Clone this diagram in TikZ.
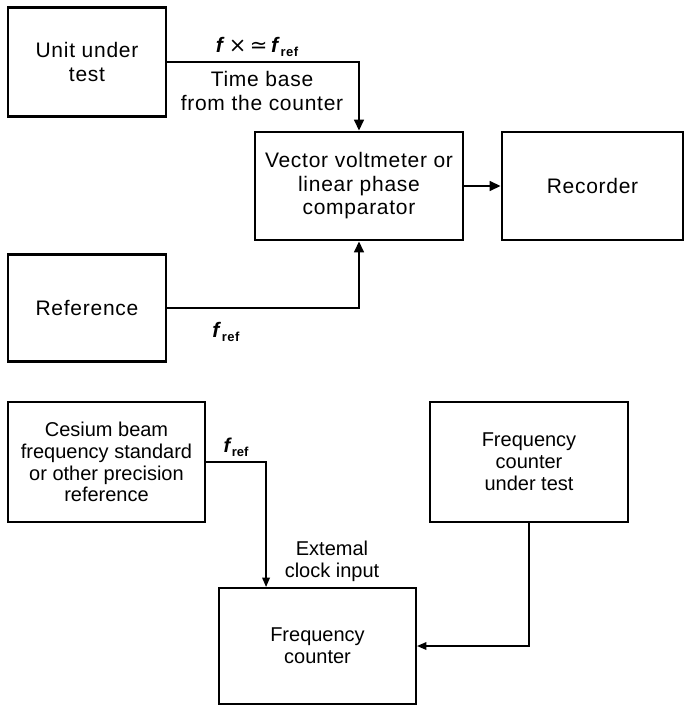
\documentclass[tikz,border=0pt]{standalone}
\usepackage{fontspec}
\setmainfont{Liberation Sans}
\newfontfamily\widefont{Liberation Sans}[LetterSpace=3.5]
\newfontfamily\symfont{DejaVu Sans}
\usetikzlibrary{arrows.meta,calc}

% frequency symbol with "ref" subscript
\newcommand\fref{\textbf{\textit{f}}\raisebox{-0.35ex}{\fontsize{13}{13}\selectfont\bfseries ref}}

\tikzset{
  blk/.style={draw, line width=2.6pt, inner sep=0pt, align=center,
    font=\widefont\fontsize{21}{23.5}\selectfont},
  blkthin/.style={draw, line width=1.9pt, inner sep=0pt, align=center,
    font=\fontsize{20}{21.8}\selectfont},
  link/.style={line width=2.6pt, -{Triangle[length=11pt,width=9.5pt]}},
  linkthin/.style={line width=1.9pt, -{Triangle[length=9.5pt,width=7.5pt]}},
  lbl/.style={inner sep=0pt, align=center, font=\widefont\fontsize{21}{23.5}\selectfont},
  lblthin/.style={inner sep=0pt, align=center, font=\fontsize{20}{21.8}\selectfont},
}

\begin{document}
\begin{tikzpicture}[x=1pt,y=-1pt]
\useasboundingbox (0,0) rectangle (684,706);

% upper arrangement: phase comparison
\node[blk, minimum width=158pt, minimum height=109pt] (uut) at (87,62) {Unit under\\test};
\node[blk, minimum width=208pt, minimum height=108pt] (vec) at (359,186) {Vector voltmeter or\\linear phase\\comparator};
\node[blk, minimum width=181pt, minimum height=108pt] (rec) at (592.5,186) {Recorder};
\node[blk, minimum width=158pt, minimum height=107pt] (ref) at (87,308) {Reference};

\draw[link] (uut.east) -| (vec.north);
\draw[link] (ref.east) -| (vec.south);
\draw[link] (vec) -- (rec);

\node[lbl] (lf) at (257,47) {\textbf{\textit{f}}\,{\symfont ×}\,{\symfont ≃}\,\fref};
\node[lbl] (ltb) at (262,91) {Time base\\from the counter};
\node[lbl] (lr) at (226,332) {\fref};

% lower arrangement: counter check against a standard
\node[blkthin, minimum width=197pt, minimum height=120pt] (ces) at (106.5,462) {Cesium beam\\frequency standard\\or other precision\\reference};
\node[blkthin, minimum width=198pt, minimum height=120pt] (fcut) at (529,462) {Frequency\\counter\\under test};
\node[blkthin, minimum width=197pt, minimum height=116pt] (fc) at (317.5,646) {Frequency\\counter};

\draw[linkthin] (ces.east) -| ($(fc.north west)+(48,0)$);
\draw[linkthin] (fcut.south) |- (fc.east);

\node[lblthin] (lr2) at (236,447) {\fref};
\node[lblthin] (lclk) at (332,561) {Extemal\\clock input};
\end{tikzpicture}
\end{document}
